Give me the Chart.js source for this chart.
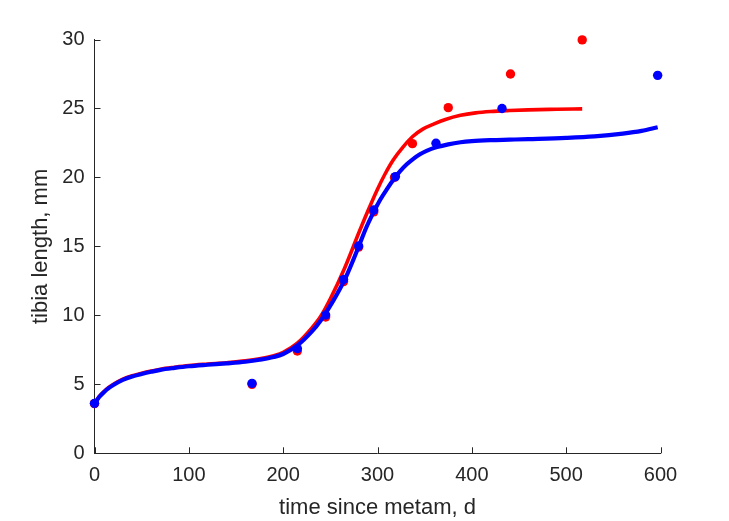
<!DOCTYPE html>
<html>
<head>
<meta charset="utf-8">
<script src="https://cdn.jsdelivr.net/npm/chart.js@4.4.0/dist/chart.umd.min.js"></script>
<style>
    html, body { margin: 0; padding: 0; background: #fff; }
    #wrap { width: 729px; height: 521px; }
</style>
</head>
<body>
<div id="wrap"><canvas id="tibia"></canvas></div>
<script>
// dados medidos (pontos)
const tempoAzul = [0, 167, 215, 245, 264, 280, 296, 319, 362, 432, 597];
const tibiaAzul = [3.62, 5.07, 7.59, 10.03, 12.6, 15.03, 17.64, 20.06, 22.48, 25.0, 27.4];
const tempoVerm = [0, 167, 215, 245, 264, 280, 296, 318, 337, 375, 441, 517];
const tibiaVerm = [3.6, 5.0, 7.42, 9.88, 12.45, 14.95, 17.5, 20.0, 22.45, 25.06, 27.5, 29.97];

// curvas ajustadas
const curvaTempoVerm = [0, 5, 10, 15, 20, 30, 40, 50, 60, 70, 85, 100, 120, 140, 160, 175, 190, 200, 215, 230, 240, 250, 265, 280, 290, 300, 308, 317, 327, 337, 348, 360, 372, 388, 404, 420, 440, 460, 490, 517];
const curvaVerm = [3.6, 4.12, 4.47, 4.77, 5.0, 5.37, 5.62, 5.8, 5.96, 6.1, 6.24, 6.36, 6.47, 6.57, 6.7, 6.85, 7.08, 7.32, 7.98, 9.05, 9.95, 11.2, 13.4, 15.95, 17.6, 19.15, 20.25, 21.3, 22.2, 22.95, 23.5, 23.88, 24.2, 24.5, 24.68, 24.78, 24.85, 24.9, 24.94, 24.97];
const curvaTempoAzul = [0, 5, 10, 15, 20, 30, 40, 50, 60, 70, 85, 100, 120, 140, 160, 175, 190, 200, 215, 230, 240, 253, 267, 281, 288, 296, 303, 310, 317, 324, 331, 338, 345, 352, 363, 375, 388, 400, 420, 440, 460, 500, 530, 560, 580, 597];
const curvaAzul = [3.6, 4.08, 4.43, 4.72, 4.95, 5.32, 5.57, 5.75, 5.91, 6.05, 6.19, 6.31, 6.42, 6.52, 6.64, 6.78, 6.98, 7.2, 7.82, 8.8, 9.65, 11.05, 12.85, 15.15, 16.35, 17.5, 18.4, 19.15, 19.85, 20.45, 20.95, 21.35, 21.68, 21.93, 22.2, 22.4, 22.55, 22.63, 22.7, 22.74, 22.78, 22.87, 22.98, 23.18, 23.38, 23.64];

// ticks
const ticksX = [0, 100, 200, 300, 400, 500, 600];
const ticksY = [0, 5, 10, 15, 20, 25, 30];

const pares = (xs, ys) => xs.map((x, i) => ({ x: x, y: ys[i] }));

const corTexto = '#262626';
const fonte = "'Liberation Sans', Arial, Helvetica, sans-serif";

// ticks para dentro, estilo matlab
const ticksDentro = {
    id: 'ticksDentro',
    beforeDatasetsDraw(chart) {
        const ctx = chart.ctx;
        const xs = chart.scales.x, ys = chart.scales.y;
        const a = chart.chartArea;
        ctx.save();
        ctx.strokeStyle = corTexto;
        ctx.lineWidth = 1;
        ctx.beginPath();
        ticksX.forEach(v => {
            const px = Math.round(xs.getPixelForValue(v)) + 0.5;
            ctx.moveTo(px, a.bottom);
            ctx.lineTo(px, a.bottom - 6);
        });
        ticksY.forEach(v => {
            const py = Math.round(ys.getPixelForValue(v)) + 0.5;
            ctx.moveTo(a.left, py);
            ctx.lineTo(a.left + 6, py);
        });
        ctx.stroke();
        ctx.restore();
    }
};

const configTibia = {
    type: 'scatter',
    data: {
        datasets: [{
            label: 'azul dados',
            data: pares(tempoAzul, tibiaAzul),
            backgroundColor: '#0000ff',
            borderColor: '#0000ff',
            pointRadius: 4.7,
            pointBorderWidth: 0,
            clip: false,
            order: 0
        }, {
            label: 'azul curva',
            data: pares(curvaTempoAzul, curvaAzul),
            showLine: true,
            borderColor: '#0000ff',
            borderWidth: 4.2,
            pointRadius: 0,
            cubicInterpolationMode: 'monotone',
            clip: false,
            order: 1
        }, {
            label: 'vermelho dados',
            data: pares(tempoVerm, tibiaVerm),
            backgroundColor: '#ff0000',
            borderColor: '#ff0000',
            pointRadius: 4.7,
            pointBorderWidth: 0,
            clip: false,
            order: 2
        }, {
            label: 'vermelho curva',
            data: pares(curvaTempoVerm, curvaVerm),
            showLine: true,
            borderColor: '#ff0000',
            borderWidth: 3.6,
            pointRadius: 0,
            cubicInterpolationMode: 'monotone',
            clip: false,
            order: 3
        }]
    },
    options: {
        responsive: true,
        maintainAspectRatio: false,
        animation: false,
        layout: {
            padding: { left: 0, right: 68.5, top: 39.5, bottom: 0 }
        },
        scales: {
            x: {
                type: 'linear',
                min: 0,
                max: 600,
                afterBuildTicks: s => { s.ticks = ticksX.map(v => ({ value: v })); },
                afterFit: s => { s.height = 67.7; },
                grid: { display: false, drawTicks: false },
                border: { display: true, color: corTexto, width: 1 },
                ticks: {
                    color: corTexto,
                    padding: 10,
                    maxRotation: 0,
                    font: { size: 20, family: fonte }
                },
                title: {
                    display: true,
                    text: 'time since metam, d',
                    color: corTexto,
                    padding: { top: 0, bottom: 0 },
                    font: { size: 22, family: fonte }
                }
            },
            y: {
                type: 'linear',
                min: 0,
                max: 30,
                afterBuildTicks: s => { s.ticks = ticksY.map(v => ({ value: v })); },
                afterFit: s => { s.width = 94.5; },
                grid: { display: false, drawTicks: false },
                border: { display: true, color: corTexto, width: 1 },
                ticks: {
                    color: corTexto,
                    padding: 10,
                    font: { size: 20, family: fonte }
                },
                title: {
                    display: true,
                    text: 'tibia length, mm',
                    color: corTexto,
                    padding: { top: 28, bottom: 0 },
                    font: { size: 22, family: fonte }
                }
            }
        },
        plugins: {
            legend: { display: false },
            tooltip: { enabled: false },
            title: { display: false }
        }
    },
    plugins: [ticksDentro]
};

new Chart(document.getElementById('tibia').getContext('2d'), configTibia);
</script>
</body>
</html>
